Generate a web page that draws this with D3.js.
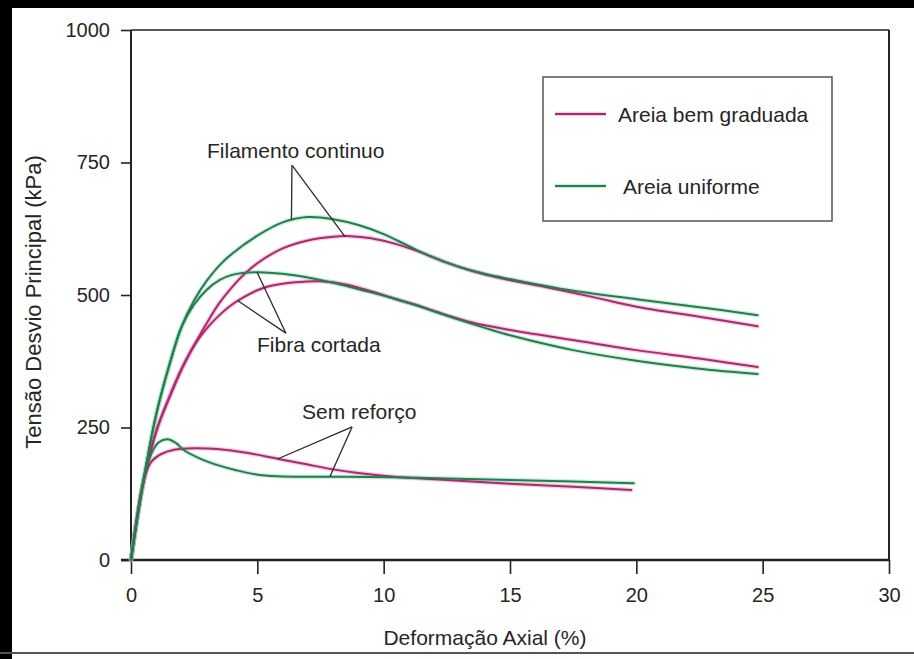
<!DOCTYPE html>
<html>
<head>
<meta charset="utf-8">
<script src="https://cdn.jsdelivr.net/npm/d3@7"></script>
<style>
  body { margin: 0; background: #fff; }
  text { font-family: "Liberation Sans", Arial, Helvetica, sans-serif; fill: #262626; }
</style>
</head>
<body>
<svg id="chart" width="914" height="659"></svg>
<script>
// Axis ticks and titles
const xTicks = [0, 5, 10, 15, 20, 25, 30];
const yTicks = [0, 250, 500, 750, 1000];
const xTitle = "Deformação Axial (%)";
const yTitle = "Tensão Desvio Principal (kPa)";
const legendLabels = ["Areia bem graduada", "Areia uniforme"];

// Stress–strain curves: [axial strain %, deviator stress kPa]
const filamentoGraduada = [[0,0],[0.5,148],[1,243],[1.5,305],[2,360],[2.5,405],[3,447],[3.5,485],[4,515],[4.5,540],[5,560],[6,588],[7,603],[8,610],[8.7,611],[9.5,607],[10.5,596],[11.5,580],[12.5,561],[13.5,545],[14.6,532],[16.6,513],[18.3,496],[20,478],[22.5,459],[24.8,441]];
const filamentoUniforme = [[0,0],[0.5,152],[1,275],[1.5,365],[2,440],[2.5,490],[3,527],[3.5,556],[4,578],[5,612],[6,637],[7,647],[8,643],[9,632],[10,615],[11,592],[12,570],[13,553],[14,540],[15,530],[17,512],[20,492],[22.5,477],[24.8,462]];
const fibraGraduada = [[0,0],[0.5,148],[1,243],[1.5,305],[2,360],[2.5,405],[3,437],[3.5,462],[4,482],[4.5,497],[5,509],[5.5,517],[6.5,524],[7.5,526],[8.5,520],[9.5,507],[10.5,492],[11.5,478],[12.5,462],[13.5,448],[15,434],[17.5,415],[20,396],[22.5,380],[24.8,364]];
const fibraUniforme = [[0,0],[0.5,152],[1,275],[1.5,365],[2,440],[2.5,482],[3,510],[3.5,528],[4,538],[5,543],[6,540],[7,533],[8,523],[9,511],[10,499],[11,485],[12,469],[13,453],[14,438],[15,424],[17.5,396],[20,376],[22.5,361],[24.8,351]];
const semReforcoGraduada = [[0,0],[0.5,150],[0.8,185],[1.2,200],[1.7,208],[2.5,211],[3.5,209],[4.5,203],[5.8,191],[7,180],[8,171],[9,164],[10.4,157],[12.5,151],[15,144],[17.5,138],[19.8,132]];
const semReforcoUniforme = [[0,0],[0.5,152],[0.8,200],[1.1,222],[1.45,228],[1.8,220],[2.1,207],[2.8,190],[3.5,178],[4.2,169],[4.9,162],[5.8,158],[7,157],[8.5,157],[10.4,156],[12.5,154],[15,151],[17.5,148],[19.9,145]];

const colors = {
  graduada: { core: "#a42d6c", halo: "#e86ab4" },
  uniforme: { core: "#2b7a4e", halo: "#5fd39a" }
};

const series = [
  { data: filamentoGraduada, c: colors.graduada },
  { data: fibraGraduada, c: colors.graduada },
  { data: semReforcoGraduada, c: colors.graduada },
  { data: filamentoUniforme, c: colors.uniforme },
  { data: fibraUniforme, c: colors.uniforme },
  { data: semReforcoUniforme, c: colors.uniforme }
];

const svg = d3.select("#chart");
const x = d3.scaleLinear().domain([0, 30]).range([131, 889]);
const y = d3.scaleLinear().domain([0, 1000]).range([560, 30]);

// Outer picture frame
svg.append("rect").attr("x", 0).attr("y", 0).attr("width", 914).attr("height", 659).attr("fill", "#fff");
svg.append("rect").attr("x", 0).attr("y", 0).attr("width", 12).attr("height", 659).attr("fill", "#000");
svg.append("rect").attr("x", 0).attr("y", 0).attr("width", 914).attr("height", 8).attr("fill", "#000");
svg.append("line").attr("x1", 0).attr("x2", 914).attr("y1", 653).attr("y2", 653)
  .attr("stroke", "#555").attr("stroke-width", 2);

// Axes
const yAxis = svg.append("g").attr("transform", `translate(${x(0)},0)`)
  .call(d3.axisLeft(y).tickValues(yTicks).tickFormat(d3.format("d"))
    .tickSize(10).tickPadding(11).tickSizeOuter(0));
const xAxis = svg.append("g").attr("transform", `translate(0,${y(0)})`)
  .call(d3.axisBottom(x).tickValues(xTicks).tickFormat(d3.format("d"))
    .tickSize(14).tickPadding(14).tickSizeOuter(0));
[xAxis, yAxis].forEach(g => {
  g.select(".domain").remove();
  g.selectAll(".tick line").attr("stroke", "#222").attr("stroke-width", 1.6);
  g.selectAll(".tick text").attr("font-size", 20).attr("fill", "#2a2a2a")
    .style("font-family", "'Liberation Sans', Arial, sans-serif");
});

// Plot frame
const frame = svg.append("g").attr("stroke", "#222").attr("fill", "none");
frame.append("line").attr("x1", x(0)).attr("x2", x(0)).attr("y1", y(1000)).attr("y2", y(0)).attr("stroke-width", 2);
frame.append("line").attr("x1", x(0) - 10).attr("x2", x(30)).attr("y1", y(0)).attr("y2", y(0)).attr("stroke-width", 2.6);
frame.append("line").attr("x1", x(0)).attr("x2", x(30)).attr("y1", y(1000)).attr("y2", y(1000)).attr("stroke-width", 1.6);
frame.append("line").attr("x1", x(30)).attr("x2", x(30)).attr("y1", y(1000)).attr("y2", y(0)).attr("stroke-width", 2);

// Axis titles
svg.append("text").attr("x", 485).attr("y", 645).attr("text-anchor", "middle")
  .attr("font-size", 21).text(xTitle);
svg.append("text").attr("transform", "translate(33,302) rotate(-90)")
  .attr("text-anchor", "middle").attr("dominant-baseline", "central")
  .attr("font-size", 22).text(yTitle);

// Curves
const line = d3.line().x(d => x(d[0])).y(d => y(d[1])).curve(d3.curveCatmullRom.alpha(0.5));
const curves = svg.append("g").attr("fill", "none").attr("stroke-linecap", "round");
series.forEach(s => {
  curves.append("path").attr("d", line(s.data)).attr("stroke", s.c.halo)
    .attr("stroke-width", 4.5).attr("stroke-opacity", 0.35);
});
series.forEach(s => {
  curves.append("path").attr("d", line(s.data)).attr("stroke", s.c.core)
    .attr("stroke-width", 2);
});

// Curve annotations with leader lines
const notes = [
  { label: "Filamento continuo", tx: 207, ty: 158, apex: [6.37, 745], targets: [[6.35, 642], [8.47, 610]] },
  { label: "Fibra cortada", tx: 257, ty: 352, apex: [6.13, 428], targets: [[4.99, 543], [4.23, 489]] },
  { label: "Sem reforço", tx: 302, ty: 419, apex: [8.75, 251], targets: [[5.82, 191], [7.87, 157]] }
];
const ann = svg.append("g");
notes.forEach(n => {
  n.targets.forEach(t => {
    ann.append("line").attr("x1", x(n.apex[0])).attr("y1", y(n.apex[1]))
      .attr("x2", x(t[0])).attr("y2", y(t[1]))
      .attr("stroke", "#2a2a2a").attr("stroke-width", 1.3);
  });
  ann.append("text").attr("x", n.tx).attr("y", n.ty).attr("font-size", 21).text(n.label);
});

// Legend
const legend = svg.append("g");
legend.append("rect").attr("x", 543).attr("y", 77).attr("width", 289).attr("height", 144)
  .attr("fill", "#fff").attr("stroke", "#555").attr("stroke-width", 1.5);
[colors.graduada, colors.uniforme].forEach((c, i) => {
  const ly = i === 0 ? 114 : 186;
  legend.append("line").attr("x1", 555).attr("x2", 606).attr("y1", ly).attr("y2", ly)
    .attr("stroke", c.halo).attr("stroke-width", 4.5).attr("stroke-opacity", 0.35);
  legend.append("line").attr("x1", 555).attr("x2", 606).attr("y1", ly).attr("y2", ly)
    .attr("stroke", c.core).attr("stroke-width", 2);
  legend.append("text").attr("x", i === 0 ? 618 : 623).attr("y", ly)
    .attr("dominant-baseline", "central").attr("font-size", 21).text(legendLabels[i]);
});
</script>
</body>
</html>
